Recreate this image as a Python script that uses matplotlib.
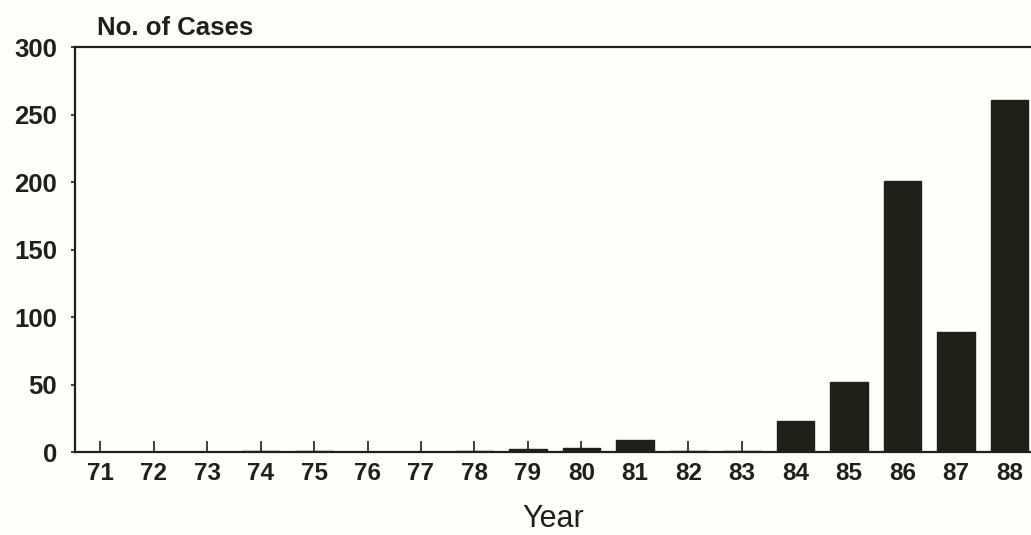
import numpy as np
import matplotlib
matplotlib.use("Agg")
import matplotlib.pyplot as plt

plt.rcParams['font.family'] = ['Liberation Sans', 'DejaVu Sans']

years = [71, 72, 73, 74, 75, 76, 77, 78, 79, 80, 81, 82, 83, 84, 85, 86, 87, 88]
cases = [0, 0, 0, 1, 1, 0, 0, 1, 2, 3, 9, 1, 1, 23, 52, 201, 89, 261]
year_labels = [str(y) for y in years]

ink = '#1e2117'

fig = plt.figure(figsize=(10.31, 5.35), dpi=100)
fig.patch.set_facecolor('#fefefb')
ax = fig.add_axes([0.0727, 0.155, 0.927, 0.757])
ax.set_facecolor('#fefefb')

ax.bar(years, cases, width=0.7, color=ink, edgecolor=ink, zorder=2)

ax.set_xlim(70.53, 88.4)
ax.set_ylim(0, 300)
ax.set_yticks([0, 50, 100, 150, 200, 250, 300])
ax.set_xticks(years)
ax.set_xticklabels(year_labels)

for s in ['left', 'bottom', 'top']:
    ax.spines[s].set_color(ink)
    ax.spines[s].set_linewidth(1.6)
ax.spines['right'].set_visible(False)

ax.tick_params(axis='x', direction='in', length=8, width=1.2, colors=ink,
               labelsize=17.5, pad=7)
ax.tick_params(axis='y', direction='out', length=3, width=1.2, colors=ink,
               labelsize=18.5, pad=10)
for lab in ax.get_xticklabels() + ax.get_yticklabels():
    lab.set_fontweight('bold')

ax.set_xlabel('Year', fontsize=22, color=ink, labelpad=14)
fig.text(0.094, 0.935, 'No. of Cases', fontsize=18.5, fontweight='bold', color=ink)

fig.savefig('out.png', dpi=100, facecolor=fig.get_facecolor())
